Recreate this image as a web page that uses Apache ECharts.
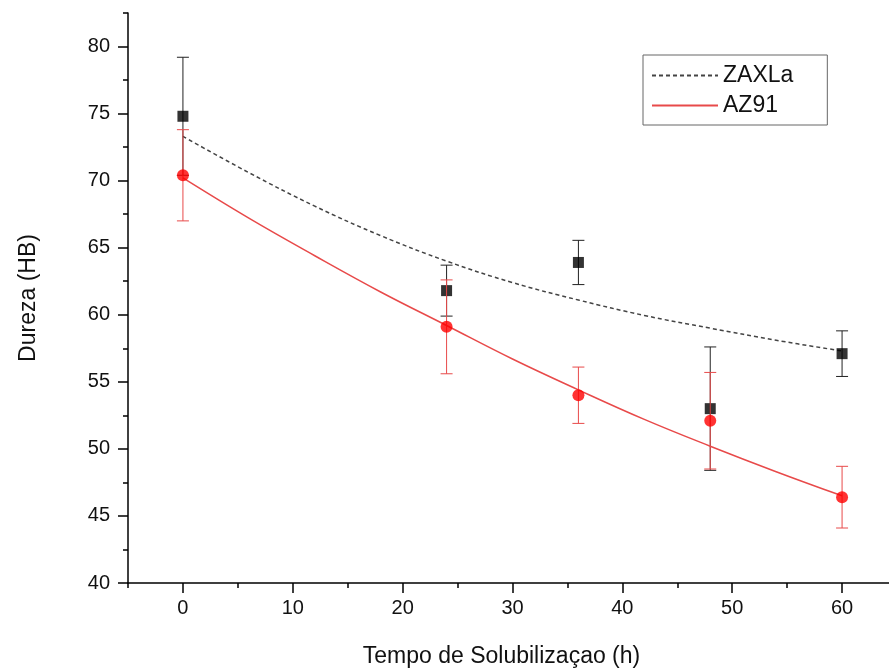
<!DOCTYPE html>
<html>
<head>
<meta charset="utf-8">
<script src="https://cdn.jsdelivr.net/npm/echarts@6/dist/echarts.min.js"></script>
<style>html,body{margin:0;padding:0;background:#fff}#c{width:889px;height:668px}</style>
</head>
<body>
<div id="c"></div>
<script>
// Measured points: [time (h), hardness (HB), error]
const zaxlaPoints = [[0, 74.8, 4.4], [24, 61.8, 1.9], [36, 63.9, 1.65], [48, 53.0, 4.6], [60, 57.1, 1.7]];
const az91Points  = [[0, 70.4, 3.4], [24, 59.1, 3.5], [36, 54.0, 2.1], [48, 52.1, 3.6], [60, 46.4, 2.3]];
// Fit curves
const fitX = [0, 6, 12, 18, 24, 30, 36, 42, 48, 54, 60];
const zaxlaFit = [73.3, 70.6, 68.1, 65.9, 64.0, 62.4, 61.1, 59.95, 59.0, 58.1, 57.3];
const az91Fit  = [70.2, 67.2, 64.4, 61.7, 59.2, 56.7, 54.4, 52.2, 50.2, 48.3, 46.5];
const xMajor = [0, 10, 20, 30, 40, 50, 60];
const xMinor = [-5, 5, 15, 25, 35, 45, 55, 65];
const yMajor = [40, 45, 50, 55, 60, 65, 70, 75, 80];
const yMinor = [42.5, 47.5, 52.5, 57.5, 62.5, 67.5, 72.5, 77.5, 82.5];

const FONT = '"Liberation Sans", Arial, sans-serif';
const chart = echarts.init(document.getElementById('c'));

function errBar(color) {
  return function (params, api) {
    const x = api.value(0), y = api.value(1), e = api.value(2);
    const top = api.coord([x, y + e]);
    const bot = api.coord([x, y - e]);
    const hw = 6;
    const style = { stroke: color, lineWidth: 1 };
    return {
      type: 'group',
      children: [
        { type: 'line', shape: { x1: top[0], y1: top[1], x2: bot[0], y2: bot[1] }, style: style },
        { type: 'line', shape: { x1: top[0] - hw, y1: top[1], x2: top[0] + hw, y2: top[1] }, style: style },
        { type: 'line', shape: { x1: bot[0] - hw, y1: bot[1], x2: bot[0] + hw, y2: bot[1] }, style: style }
      ]
    };
  };
}

const axisLineStyle = { color: '#000', width: 1.5 };
const hiddenSym = { color: 'rgba(0,0,0,0)', borderWidth: 0, opacity: 0 };

chart.setOption({
  animation: false,
  backgroundColor: '#fff',
  grid: { left: 128, right: -8, top: 13, bottom: 85, containLabel: false, outerBoundsMode: 'none' },
  legend: {
    orient: 'vertical',
    left: 643, top: 55,
    data: [{ name: 'ZAXLa', itemStyle: hiddenSym }, { name: 'AZ91', itemStyle: hiddenSym }],
    itemWidth: 66, itemHeight: 14, itemGap: 7, itemTextGap: 10,
    padding: [9, 34, 8, 8],
    borderColor: '#666', borderWidth: 1,
    textStyle: { fontFamily: FONT, fontSize: 23, color: '#111' }
  },
  xAxis: [
    {
      type: 'value', min: -5, max: 65,
      name: 'Tempo de Solubilizaçao (h)', nameLocation: 'middle', nameGap: 62,
      nameTextStyle: { fontFamily: FONT, fontSize: 23, color: '#111', padding: [0, 22, 0, 0] },
      axisLine: { show: true, onZero: false, lineStyle: axisLineStyle },
      axisTick: { show: true, customValues: xMajor, length: 10, lineStyle: { color: '#000', width: 1.5 } },
      axisLabel: { customValues: xMajor, fontFamily: FONT, fontSize: 20, color: '#111', margin: 15 },
      splitLine: { show: false }
    },
    {
      type: 'value', min: -5, max: 65, position: 'bottom',
      axisLine: { show: false, onZero: false },
      axisTick: { show: true, customValues: xMinor, length: 5, lineStyle: { color: '#000', width: 1.5 } },
      axisLabel: { show: false },
      splitLine: { show: false }
    }
  ],
  yAxis: [
    {
      type: 'value', min: 40, max: 82.5,
      name: 'Dureza (HB)', nameLocation: 'middle', nameGap: 88, nameRotate: 90,
      nameTextStyle: { fontFamily: FONT, fontSize: 23, color: '#111' },
      axisLine: { show: true, onZero: false, lineStyle: axisLineStyle },
      axisTick: { show: true, customValues: yMajor, length: 10, lineStyle: { color: '#000', width: 1.5 } },
      axisLabel: { customValues: yMajor, fontFamily: FONT, fontSize: 20, color: '#111', margin: 18 },
      splitLine: { show: false }
    },
    {
      type: 'value', min: 40, max: 82.5, position: 'left',
      axisLine: { show: false, onZero: false },
      axisTick: { show: true, customValues: yMinor, length: 5, lineStyle: { color: '#000', width: 1.5 } },
      axisLabel: { show: false },
      splitLine: { show: false }
    }
  ],
  series: [
    {
      name: 'ZAXLa', type: 'line', smooth: 0.4, symbol: 'none',
      data: fitX.map((x, i) => [x, zaxlaFit[i]]),
      lineStyle: { color: '#444', width: 1.5, type: [4, 3] },
      itemStyle: { color: '#444' },
      z: 2
    },
    {
      name: 'ZAXLa err', type: 'custom', renderItem: errBar('#222'),
      data: zaxlaPoints, z: 3
    },
    {
      name: 'ZAXLa pts', type: 'scatter', symbol: 'rect', symbolSize: 11,
      data: zaxlaPoints.map(p => [p[0], p[1]]),
      itemStyle: { color: '#000' }, z: 4
    },
    {
      name: 'AZ91', type: 'line', smooth: 0.4, symbol: 'none',
      data: fitX.map((x, i) => [x, az91Fit[i]]),
      lineStyle: { color: '#e84a4a', width: 1.5 },
      itemStyle: { color: '#e84a4a' },
      z: 5
    },
    {
      name: 'AZ91 err', type: 'custom', renderItem: errBar('#e84a4a'),
      data: az91Points, z: 6
    },
    {
      name: 'AZ91 pts', type: 'scatter', symbol: 'circle', symbolSize: 12,
      data: az91Points.map(p => [p[0], p[1]]),
      itemStyle: { color: '#ff0000' }, z: 7
    }
  ]
});
</script>
</body>
</html>
